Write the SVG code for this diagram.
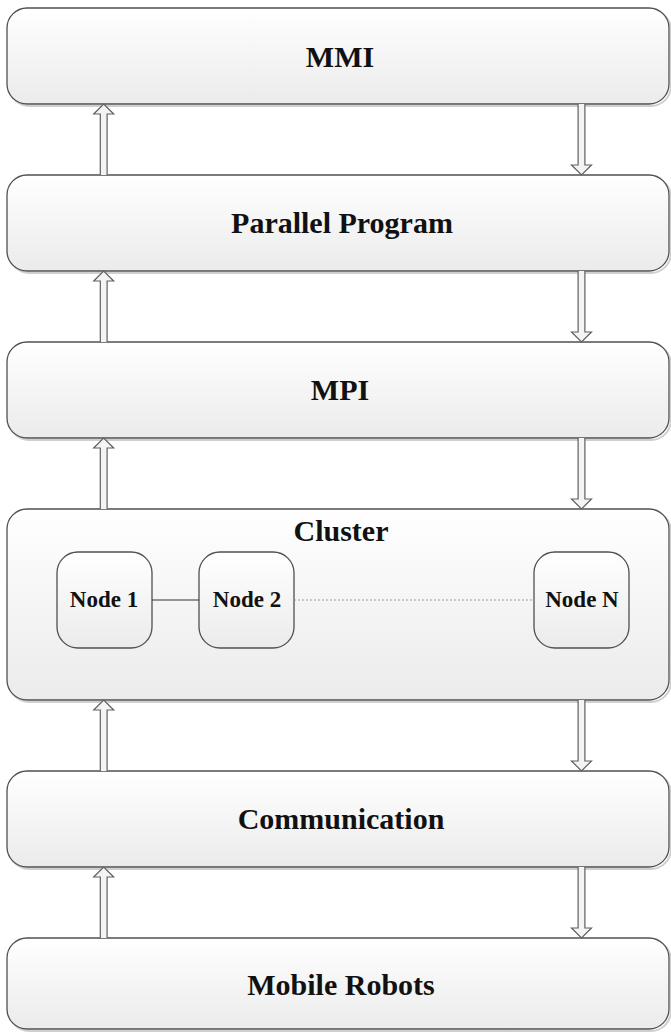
<svg xmlns="http://www.w3.org/2000/svg" xmlns:xlink="http://www.w3.org/1999/xlink" width="671" height="1032" viewBox="0 0 671 1032">
  <style>
    .box { fill: url(#boxFill); stroke: #505050; stroke-width: 1.3; }
    .shadow { fill: none; stroke: #cfcfcf; stroke-width: 2; }
    .label { font-family: "Liberation Serif", "Times New Roman", serif; font-weight: bold; font-size: 30px; fill: #111; text-anchor: middle; }
    .small { font-size: 23px; }
    .arrow { fill: #f4f4f4; stroke: #606060; stroke-width: 1.2; stroke-linejoin: miter; }
    .arrowShadow { fill: none; stroke: #dedede; stroke-width: 1; }
    .link { stroke: #333; stroke-width: 1.2; fill: none; }
    .dotted { stroke: #9a9a9a; stroke-width: 1; stroke-dasharray: 2 2; fill: none; }
  </style>
  <defs>
    <linearGradient id="boxFill" x1="0" y1="0" x2="0" y2="1">
      <stop offset="0" stop-color="#ffffff"/>
      <stop offset="1" stop-color="#ebebeb"/>
    </linearGradient>
    <!-- hollow block arrows spanning the 71px gap between layers -->
    <path id="up" class="arrow" d="M -3.4 71 L -3.4 10 L -10 10 L 0 0 L 10 10 L 3.4 10 L 3.4 71"/>
    <path id="down" class="arrow" d="M -3.4 0 L -3.4 61 L -10 61 L 0 71 L 10 61 L 3.4 61 L 3.4 0"/>
  </defs>

  <rect width="671" height="1032" fill="#ffffff"/>

  <g id="mmi">
    <rect class="shadow" x="9" y="10" width="662" height="96" rx="20"/>
    <rect class="box" x="7" y="8" width="662" height="96" rx="20"/>
    <text class="label" x="340" y="67">MMI</text>
  </g>

  <g id="parallel-program">
    <rect class="shadow" x="9" y="177" width="662" height="96" rx="20"/>
    <rect class="box" x="7" y="175" width="662" height="96" rx="20"/>
    <text class="label" x="342" y="233">Parallel Program</text>
  </g>

  <g id="mpi">
    <rect class="shadow" x="9" y="344" width="662" height="96" rx="20"/>
    <rect class="box" x="7" y="342" width="662" height="96" rx="20"/>
    <text class="label" x="340" y="400">MPI</text>
  </g>

  <g id="cluster">
    <rect class="shadow" x="9" y="511" width="662" height="191" rx="20"/>
    <rect class="box" x="7" y="509" width="662" height="191" rx="20"/>
    <text class="label" x="341" y="541">Cluster</text>
  </g>

  <g id="node-1">
    <rect class="box" x="57" y="552" width="95" height="96" rx="21"/>
    <text class="label small" x="104" y="607">Node 1</text>
  </g>

  <g id="node-2">
    <rect class="box" x="199" y="552" width="95" height="96" rx="21"/>
    <text class="label small" x="247" y="607">Node 2</text>
  </g>

  <g id="node-n">
    <rect class="box" x="534" y="552" width="95" height="96" rx="21"/>
    <text class="label small" x="582" y="607">Node N</text>
  </g>

  <g id="communication">
    <rect class="shadow" x="9" y="773" width="662" height="96" rx="20"/>
    <rect class="box" x="7" y="771" width="662" height="96" rx="20"/>
    <text class="label" x="341" y="829">Communication</text>
  </g>

  <g id="mobile-robots">
    <rect class="shadow" x="9" y="940" width="662" height="91" rx="20"/>
    <rect class="box" x="7" y="938" width="662" height="91" rx="20"/>
    <text class="label" x="341" y="995">Mobile Robots</text>
  </g>

  <g id="connectors">
    <!-- links between cluster nodes -->
    <line class="link" x1="152" y1="600" x2="199" y2="600"/>
    <line class="dotted" x1="294" y1="600" x2="534" y2="600"/>

    <!-- upward data flow on the left -->
    <use xlink:href="#up" x="103.7" y="104"/>
    <use xlink:href="#up" x="103.7" y="271"/>
    <use xlink:href="#up" x="103.7" y="438"/>
    <use xlink:href="#up" x="103.7" y="700"/>
    <use xlink:href="#up" x="103.7" y="867"/>

    <!-- downward data flow on the right -->
    <use xlink:href="#down" x="581.5" y="104"/>
    <use xlink:href="#down" x="581.5" y="271"/>
    <use xlink:href="#down" x="581.5" y="438"/>
    <use xlink:href="#down" x="581.5" y="700"/>
    <use xlink:href="#down" x="581.5" y="867"/>
  </g>
</svg>
